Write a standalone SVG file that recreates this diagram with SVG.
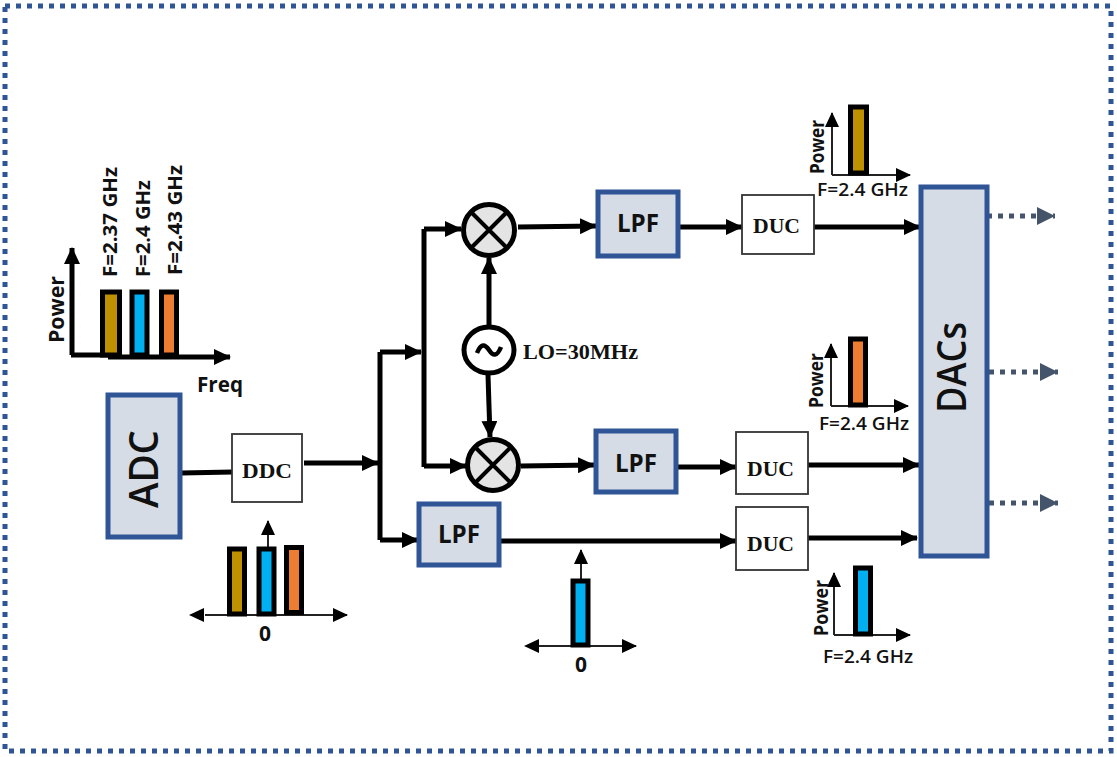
<svg xmlns="http://www.w3.org/2000/svg" width="1117" height="757" viewBox="0 0 1117 757">
<defs>
<marker id="a" markerUnits="userSpaceOnUse" markerWidth="18" markerHeight="16" refX="16" refY="8" orient="auto"><path d="M0 0L17 8L0 16z" fill="#000"/></marker>
<marker id="b" markerUnits="userSpaceOnUse" markerWidth="18" markerHeight="16" refX="14" refY="7" orient="auto"><path d="M0 0L15 7L0 14z" fill="#000"/></marker>
<marker id="c" markerUnits="userSpaceOnUse" markerWidth="20" markerHeight="20" refX="18" refY="9" orient="auto"><path d="M0 0L18 9L0 18z" fill="#44546a"/></marker>
</defs>
<style>
.w{stroke:#000;stroke-width:5;fill:none;marker-end:url(#a)}
.n{stroke:#000;stroke-width:5;fill:none}
.t{stroke:#222;stroke-width:2;fill:none;marker-end:url(#b)}
.d{stroke:#44546a;stroke-width:5;stroke-dasharray:5 6;fill:none;marker-end:url(#c)}
.blk{fill:#d6dce5;stroke:#2f5597;stroke-width:5}
.box{fill:#fff;stroke:#333;stroke-width:1.8}
.mix{fill:#e4e4e4;stroke:#000;stroke-width:5}
.x{stroke:#000;stroke-width:4;fill:none}
.bar{stroke:#000;stroke-width:5}
.y{fill:#bf9000}.bl{fill:#00b0f0}.o{fill:#ed7d31}
text{fill:#111;font-family:"Open Sans","Noto Sans",sans-serif}
.s{font-family:"Liberation Serif",serif;font-weight:700}
.b{font-weight:700}
.m{font-weight:600}
</style>
<rect id="frame" x="5" y="6" width="1106" height="745" fill="none" stroke="#2f5597" stroke-width="5" stroke-dasharray="5 6"/>
<g id="connectors">
<path class="n" d="M181 473L233 472"/>
<path class="w" d="M304 463L378 463"/>
<path class="n" d="M380 352V540"/>
<path class="w" d="M380 352H421"/>
<path class="w" d="M380 540H418"/>
<path class="n" d="M424 229V467"/>
<path class="w" d="M424 229H461"/>
<path class="w" d="M424 466H466"/>
<path class="w" d="M518 227L596 226"/>
<path class="w" d="M521 466L594 465"/>
<path class="w" d="M489 325V258"/>
<path class="w" d="M488 375L490 437"/>
<path class="w" d="M679 227H742"/>
<path class="w" d="M677 467H736"/>
<path class="w" d="M500 541L736 541"/>
<path class="w" d="M814 227H920"/>
<path class="w" d="M808 465H919"/>
<path class="w" d="M808 538H917"/>
<path class="d" d="M987 216H1055"/>
<path class="d" d="M989 372H1058"/>
<path class="d" d="M989 503H1058"/>
</g>
<g id="adc"><rect class="blk" x="108" y="395" width="72" height="142"/><text transform="translate(158 508) rotate(-90)" font-size="40" textLength="78" lengthAdjust="spacingAndGlyphs" class="m">ADC</text></g>
<g id="ddc"><rect class="box" x="232" y="434" width="70" height="68"/><text class="s" x="242" y="478" font-size="22" textLength="50" lengthAdjust="spacingAndGlyphs">DDC</text></g>
<g id="mixer1"><circle class="mix" cx="489" cy="230" r="25.500"/><path class="x" d="M471 212L507 248M507 212L471 248"/></g>
<g id="mixer2"><circle class="mix" cx="493" cy="465" r="25.500"/><path class="x" d="M475 447L511 483M511 447L475 483"/></g>
<g id="lo"><ellipse cx="489" cy="350" rx="25" ry="23" fill="#fff" stroke="#000" stroke-width="5"/><path d="M477 353C481 343 485 344 489 350S497 357 501 347" fill="none" stroke="#000" stroke-width="4.500"/><text class="s" x="523" y="359" font-size="22" textLength="115" lengthAdjust="spacingAndGlyphs">LO=30MHz</text></g>
<g id="lpf1"><rect class="blk" x="598" y="192" width="80" height="64"/><text class="b" x="617" y="232" font-size="25" textLength="42" lengthAdjust="spacingAndGlyphs">LPF</text></g>
<g id="lpf2"><rect class="blk" x="596" y="431" width="80" height="61"/><text class="b" x="615" y="472" font-size="25" textLength="42" lengthAdjust="spacingAndGlyphs">LPF</text></g>
<g id="lpf3"><rect class="blk" x="419" y="504" width="80" height="61"/><text class="b" x="438" y="543" font-size="25" textLength="42" lengthAdjust="spacingAndGlyphs">LPF</text></g>
<g id="duc1"><rect class="box" x="742" y="195" width="72" height="59"/><text class="s" x="753" y="233" font-size="22" textLength="47" lengthAdjust="spacingAndGlyphs">DUC</text></g>
<g id="duc2"><rect class="box" x="736" y="432" width="72" height="62"/><text class="s" x="747" y="476" font-size="22" textLength="47" lengthAdjust="spacingAndGlyphs">DUC</text></g>
<g id="duc3"><rect class="box" x="736" y="507" width="72" height="63"/><text class="s" x="747" y="551" font-size="22" textLength="47" lengthAdjust="spacingAndGlyphs">DUC</text></g>
<g id="dacs"><rect class="blk" x="921" y="187" width="66" height="369"/><text transform="translate(966 413) rotate(-90)" font-size="40" textLength="91" lengthAdjust="spacingAndGlyphs" class="m">DACs</text></g>
<g id="input-spectrum">
<path class="w" d="M72 355V248"/>
<path class="w" d="M71 355H108M108 357H230"/>
<rect class="bar y" x="102.500" y="292" width="17" height="63"/>
<rect class="bar bl" x="132" y="292" width="15" height="63"/>
<rect class="bar o" x="161.500" y="292" width="15" height="63"/>
<text class="b" transform="translate(64 343) rotate(-90)" font-size="22" textLength="67" lengthAdjust="spacingAndGlyphs">Power</text>
<text class="b" transform="translate(117 277) rotate(-90)" font-size="20" textLength="110" lengthAdjust="spacingAndGlyphs">F=2.37 GHz</text>
<text class="b" transform="translate(150 277) rotate(-90)" font-size="20" textLength="97" lengthAdjust="spacingAndGlyphs">F=2.4 GHz</text>
<text class="b" transform="translate(182 275) rotate(-90)" font-size="20" textLength="110" lengthAdjust="spacingAndGlyphs">F=2.43 GHz</text>
<text class="b" x="197" y="392" font-size="22" textLength="46" lengthAdjust="spacingAndGlyphs">Freq</text>
</g>
<g id="ddc-spectrum">
<path class="t" d="M268 548V521"/>
<path class="t" d="M205 615H347"/>
<path d="M189 615L204 608V622z"/>
<rect class="bar y" x="229.500" y="549" width="15" height="65"/>
<rect class="bar bl" x="259" y="549" width="15" height="65"/>
<rect class="bar o" x="286.500" y="547.500" width="15" height="65"/>
<text class="b" x="265" y="641" text-anchor="middle" font-size="21">0</text>
</g>
<g id="lpf-spectrum">
<path class="t" d="M581 580V550"/>
<path class="t" d="M526 646H636"/>
<path d="M524 646L539 639V653z"/>
<rect class="bar bl" x="573" y="581" width="15" height="64"/>
<text class="b" x="581" y="672" text-anchor="middle" font-size="21">0</text>
</g>
<g id="out1">
<path class="t" d="M832 175V113"/><path class="t" d="M832 175H910"/>
<rect class="bar y" x="850.500" y="107" width="16" height="66"/>
<text class="b" transform="translate(824 174) rotate(-90)" font-size="19" textLength="54" lengthAdjust="spacingAndGlyphs">Power</text>
<text class="m" x="817" y="196" font-size="18" textLength="91" lengthAdjust="spacingAndGlyphs">F=2.4 GHz</text>
</g>
<g id="out2">
<path class="t" d="M831 406V344"/><path class="t" d="M831 406H908"/>
<rect class="bar o" x="850.500" y="339" width="15" height="66"/>
<text class="b" transform="translate(823 408) rotate(-90)" font-size="19" textLength="55" lengthAdjust="spacingAndGlyphs">Power</text>
<text class="m" x="819" y="430" font-size="18" textLength="90" lengthAdjust="spacingAndGlyphs">F=2.4 GHz</text>
</g>
<g id="out3">
<path class="t" d="M834 635V573"/><path class="t" d="M834 635H910"/>
<rect class="bar bl" x="855.500" y="568" width="15" height="66"/>
<text class="b" transform="translate(828 636) rotate(-90)" font-size="19" textLength="56" lengthAdjust="spacingAndGlyphs">Power</text>
<text class="m" x="823" y="663" font-size="18" textLength="90" lengthAdjust="spacingAndGlyphs">F=2.4 GHz</text>
</g>
</svg>
